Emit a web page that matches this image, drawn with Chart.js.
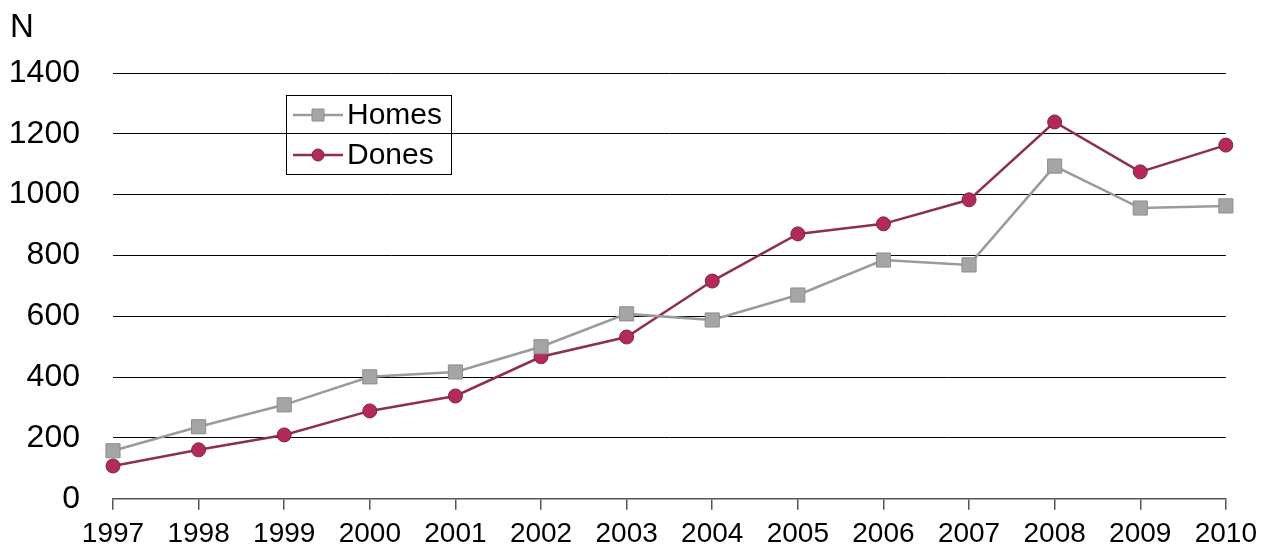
<!DOCTYPE html>
<html>
<head>
<meta charset="utf-8">
<script src="https://cdn.jsdelivr.net/npm/chart.js@4.4.1/dist/chart.umd.min.js"></script>
<style>
  body { margin: 0; background: #fff; }
  #wrap { width: 1267px; height: 551px; }
</style>
</head>
<body>
<div id="wrap"><canvas id="chart1"></canvas></div>
<script>
var years = ['1997', '1998', '1999', '2000', '2001', '2002', '2003', '2004', '2005', '2006', '2007', '2008', '2009', '2010'];
var homes = [158, 237, 309, 401, 417, 500, 608, 588, 670, 785, 769, 1094, 956, 963];
var dones = [108, 161, 210, 289, 338, 467, 532, 716, 871, 904, 983, 1239, 1075, 1163];
var yTicks = [0, 200, 400, 600, 800, 1000, 1200, 1400];

// legend box drawn over the plot, plus the "N" axis label
var extras = {
    id: 'extras',
    afterDraw: function (chart) {
        var ctx = chart.ctx;
        ctx.save();
        ctx.fillStyle = '#000';
        ctx.font = '33px "Liberation Sans", Arial, sans-serif';
        ctx.textBaseline = 'alphabetic';
        ctx.textAlign = 'left';
        ctx.fillText('N', 10, 37);

        ctx.strokeStyle = '#000';
        ctx.lineWidth = 1;
        ctx.strokeRect(286.5, 95.5, 165, 79);

        var rows = [{ ds: chart.data.datasets[0], y: 115 }, { ds: chart.data.datasets[1], y: 155 }];
        rows.forEach(function (r) {
            ctx.strokeStyle = r.ds.borderColor;
            ctx.lineWidth = r.ds.borderWidth;
            ctx.beginPath();
            ctx.moveTo(293, r.y);
            ctx.lineTo(343, r.y);
            ctx.stroke();
            ctx.fillStyle = r.ds.pointBackgroundColor;
            ctx.strokeStyle = r.ds.pointBorderColor;
            ctx.lineWidth = 1;
            ctx.beginPath();
            if (r.ds.pointStyle === 'rect') {
                ctx.rect(312, r.y - 6, 12, 12);
            } else {
                ctx.arc(318, r.y, 6, 0, Math.PI * 2);
            }
            ctx.fill();
            ctx.stroke();
            ctx.fillStyle = '#000';
            ctx.font = '30px "Liberation Sans", Arial, sans-serif';
            ctx.textBaseline = 'middle';
            ctx.fillText(r.ds.label, 347, r.y + 1);
        });
        ctx.restore();
    }
};

var ctx = document.getElementById('chart1').getContext('2d');
var myChart1 = new Chart(ctx, {
    type: 'line',
    data: {
        labels: years,
        datasets: [{
            label: 'Homes',
            data: homes,
            borderColor: '#9b9b9b',
            borderWidth: 2.5,
            pointStyle: 'rect',
            pointRadius: 10,
            pointBackgroundColor: '#a5a5a5',
            pointBorderColor: '#8e8e8e',
            pointBorderWidth: 1,
            tension: 0
        }, {
            label: 'Dones',
            data: dones,
            borderColor: '#8e2f50',
            borderWidth: 2.5,
            pointStyle: 'circle',
            pointRadius: 7,
            pointBackgroundColor: '#b2295a',
            pointBorderColor: '#7c2444',
            pointBorderWidth: 1,
            tension: 0
        }]
    },
    options: {
        responsive: true,
        maintainAspectRatio: false,
        animation: false,
        layout: { padding: { left: 8, right: 38, top: 73, bottom: 0 } },
        plugins: {
            legend: { display: false },
            tooltip: { enabled: false }
        },
        scales: {
            x: {
                offset: false,
                afterFit: function (axis) { axis.height = 52; },
                grid: { drawOnChartArea: false, drawTicks: true, tickLength: 11, color: '#555', lineWidth: 1.5 },
                border: { display: true, color: '#555', width: 1.5 },
                ticks: { color: '#000', padding: 10, maxRotation: 0, autoSkip: false,
                    font: { family: '"Liberation Sans", Arial, sans-serif', size: 28, lineHeight: 1 } }
            },
            y: {
                min: 0,
                max: 1400,
                afterFit: function (axis) { axis.width = 105; },
                afterBuildTicks: function (axis) {
                    axis.ticks = yTicks.map(function (v) { return { value: v }; });
                },
                grid: { color: '#000', lineWidth: 1, drawTicks: false },
                border: { display: false },
                ticks: { color: '#000', padding: 33,
                    callback: function (v) { return String(v); },
                    font: { family: '"Liberation Sans", Arial, sans-serif', size: 32 } }
            }
        }
    },
    plugins: [extras]
});
</script>
</body>
</html>
